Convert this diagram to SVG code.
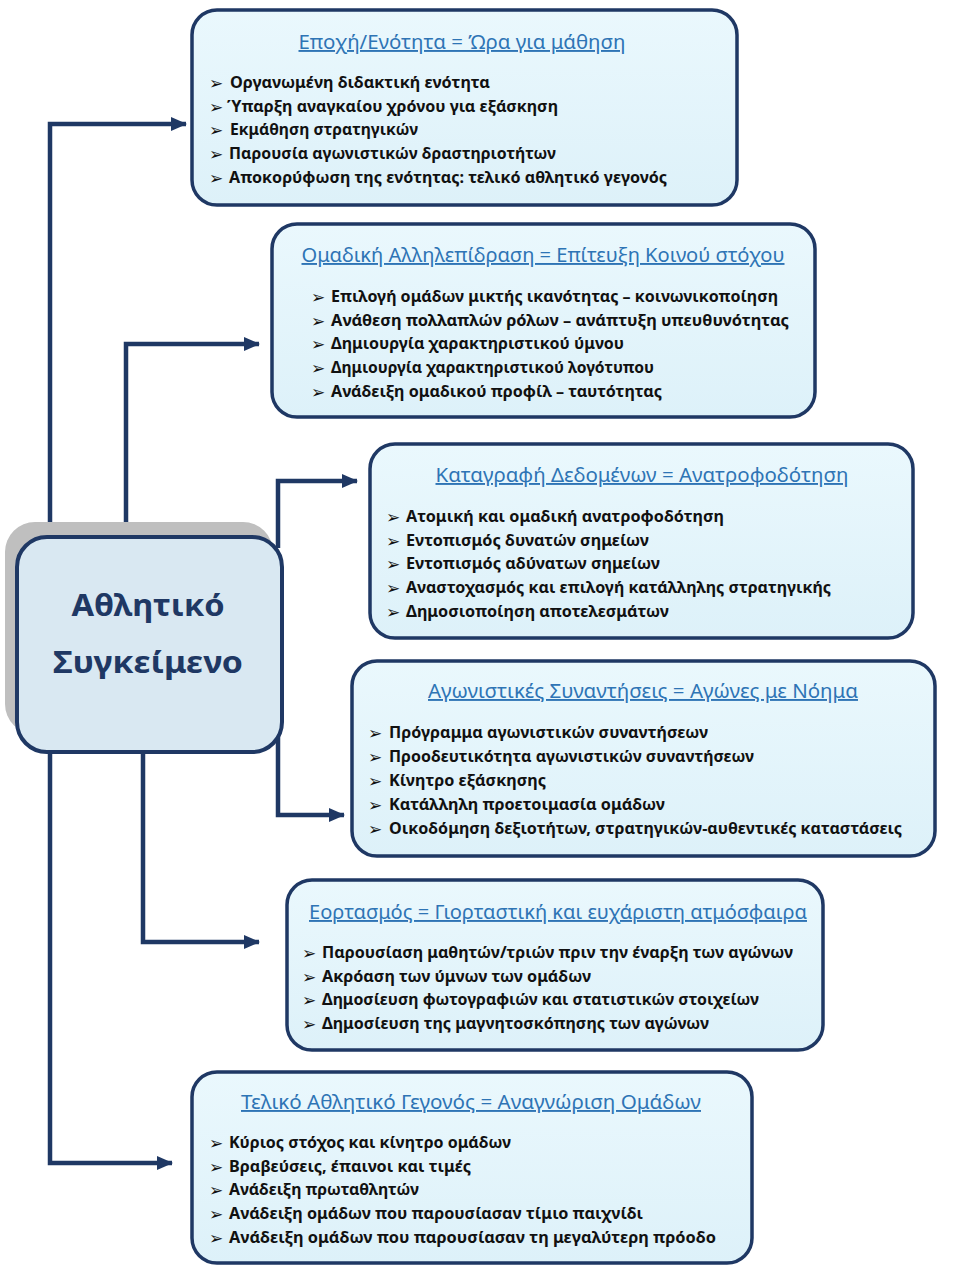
<svg xmlns="http://www.w3.org/2000/svg" width="960" height="1285" viewBox="0 0 960 1285">
<defs>
<linearGradient id="boxfill" x1="0" y1="0" x2="0" y2="1">
<stop offset="0" stop-color="#EAF8FD"/>
<stop offset="1" stop-color="#DDF1F9"/>
</linearGradient>
<marker id="arr" markerWidth="16" markerHeight="14" refX="15" refY="7" orient="auto" markerUnits="userSpaceOnUse">
<path d="M0,0 L16,7 L0,14 Z" fill="#1F3864"/>
</marker>
</defs>
<style>
.box{fill:url(#boxfill);stroke:#1F3864;stroke-width:3.5}
.title{font-family:"Noto Sans","Liberation Sans",sans-serif;font-size:19px;fill:#2E74B5;text-decoration:underline;text-anchor:middle}
.item{font-family:"Noto Sans","Liberation Sans",sans-serif;font-size:15.5px;font-weight:bold;fill:#111111}
.bul{font-family:"DejaVu Sans",sans-serif;font-size:17px;fill:#111111}
.conn{fill:none;stroke:#1F3864;stroke-width:4.5;marker-end:url(#arr)}
.center{font-family:"Noto Sans","Liberation Sans",sans-serif;font-size:31px;font-weight:bold;fill:#1F3864;text-anchor:middle}
</style>
<rect width="960" height="1285" fill="#FFFFFF"/>

<g id="connectors">
<path class="conn" d="M50,540 V124 H186"/>
<path class="conn" d="M126,540 V344 H259"/>
<path class="conn" d="M278,548 V481 H357"/>
<path class="conn" d="M278,735 V815 H344"/>
<path class="conn" d="M143,750 V942 H259"/>
<path class="conn" d="M50,750 V1163 H172"/>
</g>

<g id="center">
<rect x="5" y="522" width="268" height="212" rx="30" fill="#BFBFBF"/>
<rect x="17" y="537" width="265" height="215" rx="30" fill="#D9E8F2" stroke="#1F3864" stroke-width="4"/>
<text class="center" x="148" y="616" textLength="153" lengthAdjust="spacingAndGlyphs">Αθλητικό</text>
<text class="center" x="148" y="673" textLength="190" lengthAdjust="spacingAndGlyphs">Συγκείμενο</text>
</g>

<g id="box1">
<rect class="box" x="192" y="10" width="545" height="195" rx="25"/>
<text class="title" x="462" y="49" textLength="327" lengthAdjust="spacingAndGlyphs">Εποχή/Ενότητα  = Ώρα για μάθηση</text>
<text class="bul" x="209" y="89">➢</text><text class="item" x="230" y="88" textLength="260" lengthAdjust="spacingAndGlyphs">Οργανωμένη διδακτική ενότητα</text>
<text class="bul" x="209" y="113">➢</text><text class="item" x="227" y="112" textLength="331" lengthAdjust="spacingAndGlyphs">Ύπαρξη αναγκαίου χρόνου για εξάσκηση</text>
<text class="bul" x="209" y="136">➢</text><text class="item" x="230" y="135" textLength="188" lengthAdjust="spacingAndGlyphs">Εκμάθηση στρατηγικών</text>
<text class="bul" x="209" y="160">➢</text><text class="item" x="229" y="159" textLength="327" lengthAdjust="spacingAndGlyphs">Παρουσία αγωνιστικών δραστηριοτήτων</text>
<text class="bul" x="209" y="184">➢</text><text class="item" x="229" y="183" textLength="438" lengthAdjust="spacingAndGlyphs">Αποκορύφωση της ενότητας: τελικό αθλητικό γεγονός</text>
</g>

<g id="box2">
<rect class="box" x="272" y="224" width="543" height="193" rx="25"/>
<text class="title" x="543" y="262" textLength="483" lengthAdjust="spacingAndGlyphs">Ομαδική Αλληλεπίδραση = Επίτευξη Κοινού στόχου</text>
<text class="bul" x="311" y="303">➢</text><text class="item" x="331" y="302" textLength="447" lengthAdjust="spacingAndGlyphs">Επιλογή ομάδων μικτής ικανότητας – κοινωνικοποίηση</text>
<text class="bul" x="311" y="327">➢</text><text class="item" x="331" y="326" textLength="458" lengthAdjust="spacingAndGlyphs">Ανάθεση πολλαπλών ρόλων  – ανάπτυξη υπευθυνότητας</text>
<text class="bul" x="311" y="350">➢</text><text class="item" x="331" y="349" textLength="293" lengthAdjust="spacingAndGlyphs">Δημιουργία χαρακτηριστικού ύμνου</text>
<text class="bul" x="311" y="374">➢</text><text class="item" x="331" y="373" textLength="323" lengthAdjust="spacingAndGlyphs">Δημιουργία χαρακτηριστικού λογότυπου</text>
<text class="bul" x="311" y="398">➢</text><text class="item" x="331" y="397" textLength="331" lengthAdjust="spacingAndGlyphs">Ανάδειξη ομαδικού προφίλ – ταυτότητας</text>
</g>

<g id="box3">
<rect class="box" x="370" y="444" width="543" height="194" rx="25"/>
<text class="title" x="642" y="482" textLength="413" lengthAdjust="spacingAndGlyphs">Καταγραφή Δεδομένων = Ανατροφοδότηση</text>
<text class="bul" x="386" y="523">➢</text><text class="item" x="406" y="522" textLength="318" lengthAdjust="spacingAndGlyphs">Ατομική και ομαδική ανατροφοδότηση</text>
<text class="bul" x="386" y="547">➢</text><text class="item" x="406" y="546" textLength="243" lengthAdjust="spacingAndGlyphs">Εντοπισμός δυνατών σημείων</text>
<text class="bul" x="386" y="570">➢</text><text class="item" x="406" y="569" textLength="254" lengthAdjust="spacingAndGlyphs">Εντοπισμός αδύνατων  σημείων</text>
<text class="bul" x="386" y="594">➢</text><text class="item" x="406" y="593" textLength="425" lengthAdjust="spacingAndGlyphs">Αναστοχασμός και επιλογή κατάλληλης στρατηγικής</text>
<text class="bul" x="386" y="618">➢</text><text class="item" x="406" y="617" textLength="263" lengthAdjust="spacingAndGlyphs">Δημοσιοποίηση αποτελεσμάτων</text>
</g>

<g id="box4">
<rect class="box" x="352" y="661" width="583" height="195" rx="25"/>
<text class="title" x="643" y="698" textLength="430" lengthAdjust="spacingAndGlyphs">Αγωνιστικές Συναντήσεις = Αγώνες με Νόημα</text>
<text class="bul" x="368" y="739">➢</text><text class="item" x="389" y="738" textLength="319" lengthAdjust="spacingAndGlyphs">Πρόγραμμα  αγωνιστικών συναντήσεων</text>
<text class="bul" x="368" y="763">➢</text><text class="item" x="389" y="762" textLength="365" lengthAdjust="spacingAndGlyphs">Προοδευτικότητα αγωνιστικών συναντήσεων</text>
<text class="bul" x="368" y="787">➢</text><text class="item" x="389" y="786" textLength="157" lengthAdjust="spacingAndGlyphs">Κίνητρο εξάσκησης</text>
<text class="bul" x="368" y="811">➢</text><text class="item" x="389" y="810" textLength="276" lengthAdjust="spacingAndGlyphs">Κατάλληλη προετοιμασία ομάδων</text>
<text class="bul" x="368" y="835">➢</text><text class="item" x="389" y="834" textLength="513" lengthAdjust="spacingAndGlyphs">Οικοδόμηση δεξιοτήτων, στρατηγικών-αυθεντικές καταστάσεις</text>
</g>

<g id="box5">
<rect class="box" x="287" y="880" width="536" height="170" rx="25"/>
<text class="title" x="558" y="919" textLength="498" lengthAdjust="spacingAndGlyphs">Εορτασμός = Γιορταστική και ευχάριστη ατμόσφαιρα</text>
<text class="bul" x="302" y="959">➢</text><text class="item" x="322" y="958" textLength="471" lengthAdjust="spacingAndGlyphs">Παρουσίαση μαθητών/τριών πριν την έναρξη των αγώνων</text>
<text class="bul" x="302" y="983">➢</text><text class="item" x="322" y="982" textLength="269" lengthAdjust="spacingAndGlyphs">Ακρόαση των ύμνων των ομάδων</text>
<text class="bul" x="302" y="1006">➢</text><text class="item" x="322" y="1005" textLength="437" lengthAdjust="spacingAndGlyphs">Δημοσίευση φωτογραφιών και στατιστικών στοιχείων</text>
<text class="bul" x="302" y="1030">➢</text><text class="item" x="322" y="1029" textLength="387" lengthAdjust="spacingAndGlyphs">Δημοσίευση της μαγνητοσκόπησης των αγώνων</text>
</g>

<g id="box6">
<rect class="box" x="192" y="1072" width="560" height="191" rx="25"/>
<text class="title" x="471" y="1109" textLength="460" lengthAdjust="spacingAndGlyphs">Τελικό Αθλητικό Γεγονός = Αναγνώριση Ομάδων</text>
<text class="bul" x="209" y="1149">➢</text><text class="item" x="229" y="1148" textLength="282" lengthAdjust="spacingAndGlyphs">Κύριος στόχος και κίνητρο ομάδων</text>
<text class="bul" x="209" y="1173">➢</text><text class="item" x="229" y="1172" textLength="242" lengthAdjust="spacingAndGlyphs">Βραβεύσεις, έπαινοι και τιμές</text>
<text class="bul" x="209" y="1196">➢</text><text class="item" x="229" y="1195" textLength="190" lengthAdjust="spacingAndGlyphs">Ανάδειξη πρωταθλητών</text>
<text class="bul" x="209" y="1220">➢</text><text class="item" x="229" y="1219" textLength="414" lengthAdjust="spacingAndGlyphs">Ανάδειξη ομάδων που παρουσίασαν τίμιο παιχνίδι</text>
<text class="bul" x="209" y="1244">➢</text><text class="item" x="229" y="1243" textLength="487" lengthAdjust="spacingAndGlyphs">Ανάδειξη ομάδων που παρουσίασαν τη μεγαλύτερη πρόοδο</text>
</g>
</svg>
